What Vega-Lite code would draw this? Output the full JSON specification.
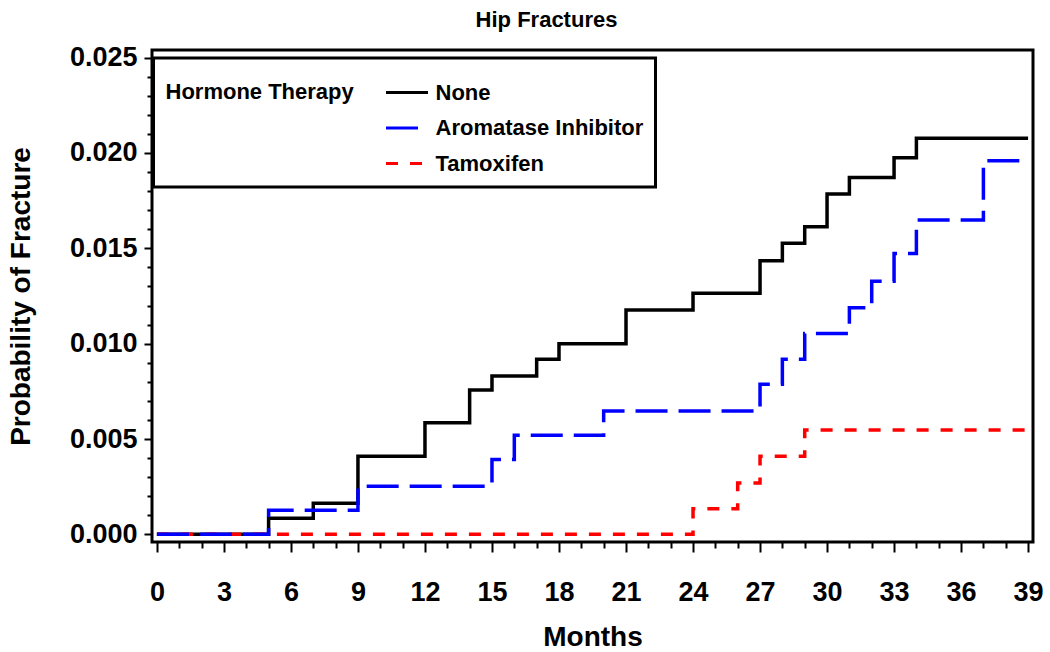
{
  "$schema": "https://vega.github.io/schema/vega-lite/v6.json",
  "width": 881,
  "height": 492,
  "autosize": {"type": "none"},
  "padding": {"left": 152, "top": 50, "right": 17, "bottom": 110},
  "background": "white",
  "config": {
    "font": "Liberation Sans",
    "view": {"stroke": "black", "strokeWidth": 3},
    "axis": {"grid": false, "domain": false, "labelFontWeight": "bold", "titleFontWeight": "bold", "tickColor": "black", "labelColor": "black", "titleColor": "black", "tickWidth": 2}
  },
  "title": {"text": "Hip Fractures", "fontSize": 22, "fontWeight": "bold", "anchor": "middle", "dx": -46, "offset": 12, "color": "black"},
  "data": {
    "values": [
      {"month": 0, "p": 0, "therapy": "None"},
      {"month": 5, "p": 0.00084, "therapy": "None"},
      {"month": 7, "p": 0.00163, "therapy": "None"},
      {"month": 9, "p": 0.0041, "therapy": "None"},
      {"month": 12, "p": 0.00585, "therapy": "None"},
      {"month": 14, "p": 0.00757, "therapy": "None"},
      {"month": 15, "p": 0.0083, "therapy": "None"},
      {"month": 17, "p": 0.00918, "therapy": "None"},
      {"month": 18, "p": 0.0100, "therapy": "None"},
      {"month": 21, "p": 0.01176, "therapy": "None"},
      {"month": 24, "p": 0.01264, "therapy": "None"},
      {"month": 27, "p": 0.01435, "therapy": "None"},
      {"month": 28, "p": 0.01526, "therapy": "None"},
      {"month": 29, "p": 0.01613, "therapy": "None"},
      {"month": 30, "p": 0.01785, "therapy": "None"},
      {"month": 31, "p": 0.01872, "therapy": "None"},
      {"month": 33, "p": 0.01975, "therapy": "None"},
      {"month": 34, "p": 0.02077, "therapy": "None"},
      {"month": 39, "p": 0.02077, "therapy": "None"},
      {"month": 0, "p": 0, "therapy": "Tamoxifen"},
      {"month": 24, "p": 0.00134, "therapy": "Tamoxifen"},
      {"month": 26, "p": 0.0027, "therapy": "Tamoxifen"},
      {"month": 27, "p": 0.0041, "therapy": "Tamoxifen"},
      {"month": 29, "p": 0.00547, "therapy": "Tamoxifen"},
      {"month": 39, "p": 0.00547, "therapy": "Tamoxifen"},
      {"month": 0, "p": 0, "therapy": "Aromatase Inhibitor"},
      {"month": 5, "p": 0.00127, "therapy": "Aromatase Inhibitor"},
      {"month": 9, "p": 0.00253, "therapy": "Aromatase Inhibitor"},
      {"month": 15, "p": 0.00393, "therapy": "Aromatase Inhibitor"},
      {"month": 16, "p": 0.0052, "therapy": "Aromatase Inhibitor"},
      {"month": 20, "p": 0.00647, "therapy": "Aromatase Inhibitor"},
      {"month": 27, "p": 0.00787, "therapy": "Aromatase Inhibitor"},
      {"month": 28, "p": 0.00918, "therapy": "Aromatase Inhibitor"},
      {"month": 29, "p": 0.01054, "therapy": "Aromatase Inhibitor"},
      {"month": 31, "p": 0.01188, "therapy": "Aromatase Inhibitor"},
      {"month": 32, "p": 0.01328, "therapy": "Aromatase Inhibitor"},
      {"month": 33, "p": 0.01473, "therapy": "Aromatase Inhibitor"},
      {"month": 34, "p": 0.01648, "therapy": "Aromatase Inhibitor"},
      {"month": 37, "p": 0.01959, "therapy": "Aromatase Inhibitor"},
      {"month": 39, "p": 0.01959, "therapy": "Aromatase Inhibitor"}
    ]
  },
  "mark": {"type": "line", "interpolate": "step-after", "strokeWidth": 3.5, "clip": true},
  "encoding": {
    "x": {
      "field": "month", "type": "quantitative",
      "scale": {"domain": [-0.22, 39.22], "nice": false, "zero": false},
      "axis": {
        "title": "Months", "titleFontSize": 28, "titleX": 440.5, "titleY": 103, "titleBaseline": "alphabetic",
        "values": [0,1,2,3,4,5,6,7,8,9,10,11,12,13,14,15,16,17,18,19,20,21,22,23,24,25,26,27,28,29,30,31,32,33,34,35,36,37,38,39],
        "labelExpr": "datum.value % 3 === 0 ? datum.label : ''",
        "labelFontSize": 27, "labelPadding": 27, "labelFlush": false, "labelOverlap": false,
        "tickSize": {"condition": {"test": "datum.value % 3 === 0", "value": 10}, "value": 6}
      }
    },
    "y": {
      "field": "p", "type": "quantitative",
      "scale": {"domain": [-0.0004, 0.0254], "nice": false, "zero": false},
      "axis": {
        "title": "Probability of Fracture", "titleFontSize": 28, "titleX": -131, "titleY": 246, "titleAngle": -90, "titleAlign": "center", "titleBaseline": "middle",
        "values": [0,0.001,0.002,0.003,0.004,0.005,0.006,0.007,0.008,0.009,0.01,0.011,0.012,0.013,0.014,0.015,0.016,0.017,0.018,0.019,0.02,0.021,0.022,0.023,0.024,0.025],
        "format": ".3f",
        "labelExpr": "round(datum.value * 1000) % 5 === 0 ? datum.label : ''",
        "labelFontSize": 27, "labelPadding": 7, "labelOverlap": false, "labelFlush": false,
        "tickSize": {"condition": {"test": "round(datum.value * 1000) % 5 === 0", "value": 8}, "value": 5}
      }
    },
    "color": {
      "field": "therapy", "type": "nominal",
      "scale": {"domain": ["None", "Aromatase Inhibitor", "Tamoxifen"], "range": ["#000000", "#0000ff", "#ff0000"]},
      "legend": {
        "title": "Hormone Therapy", "orient": "none", "legendX": 1.5, "legendY": 8,
        "titleOrient": "left", "titleAnchor": "start", "titleFontSize": 22, "titleFontWeight": "bold", "titleColor": "black", "titlePadding": 30, "titleLimit": 400,
        "labelFontSize": 22, "labelFontWeight": "bold", "labelColor": "black", "labelOffset": 6, "labelLimit": 400,
        "symbolType": "stroke", "symbolSize": 1764, "symbolStrokeWidth": 3,
        "strokeColor": "black", "fillColor": "white", "padding": 12, "rowPadding": 1.5,
        "encode": {"legend": {"update": {"strokeWidth": {"value": 3}}}, "title": {"update": {"dy": {"value": 12}}}}
      }
    },
    "strokeDash": {
      "field": "therapy", "type": "nominal",
      "scale": {"domain": ["None", "Aromatase Inhibitor", "Tamoxifen"], "range": [[1, 0], [32, 11], [12, 12]]},
      "legend": {
        "title": "Hormone Therapy", "orient": "none", "legendX": 1.5, "legendY": 8,
        "titleOrient": "left", "titleAnchor": "start", "titleFontSize": 22, "titleFontWeight": "bold", "titleColor": "black", "titlePadding": 30, "titleLimit": 400,
        "labelFontSize": 22, "labelFontWeight": "bold", "labelColor": "black", "labelOffset": 6, "labelLimit": 400,
        "symbolType": "stroke", "symbolSize": 1764, "symbolStrokeWidth": 3,
        "strokeColor": "black", "fillColor": "white", "padding": 12, "rowPadding": 1.5,
        "encode": {"legend": {"update": {"strokeWidth": {"value": 3}}}, "title": {"update": {"dy": {"value": 12}}}}
      }
    }
  }
}
